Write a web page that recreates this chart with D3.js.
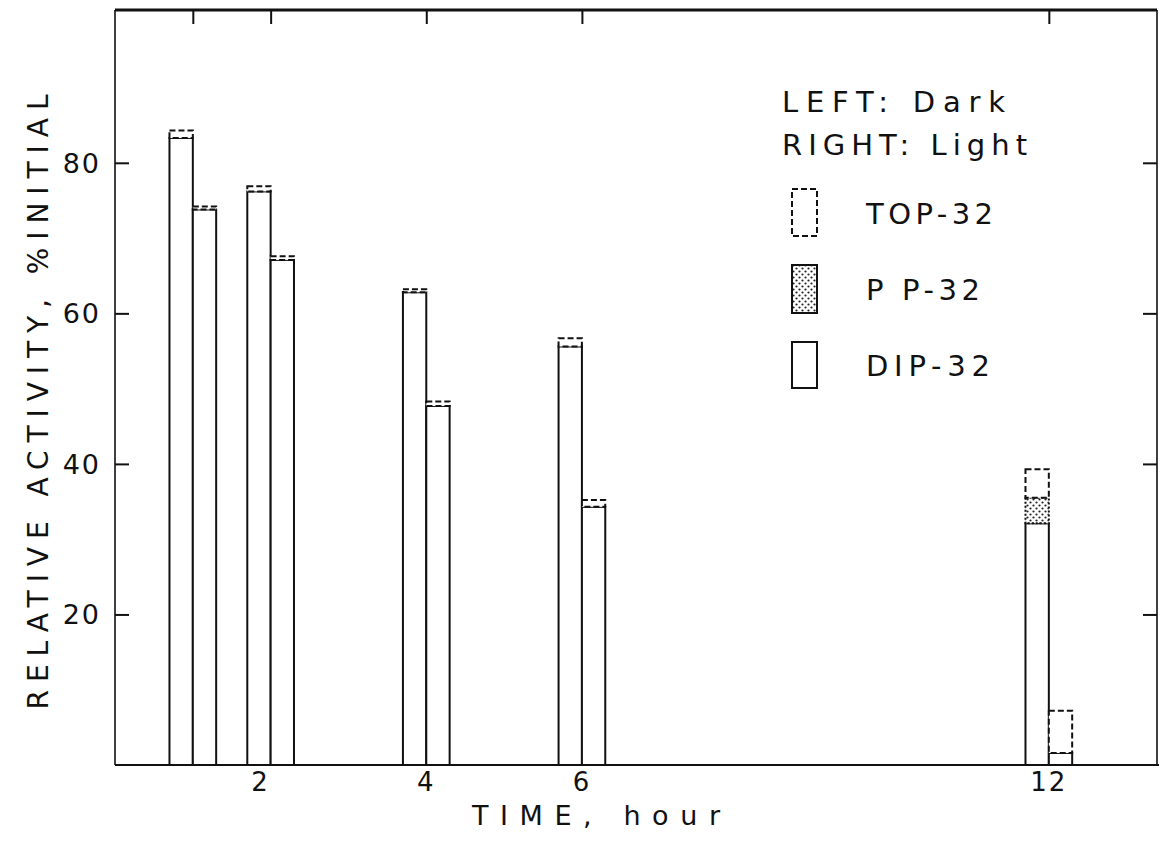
<!DOCTYPE html>
<html>
<head>
<meta charset="utf-8">
<script src="https://cdn.jsdelivr.net/npm/d3@7"></script>
<style>
  html, body { margin: 0; padding: 0; background: #fff; }
  svg { display: block; }
  text { font-family: "DejaVu Sans", sans-serif; fill: #111; }
</style>
</head>
<body>
<svg id="chart" width="1167" height="852"></svg>
<script>
// ---- data ----
const hours      = [1, 2, 4, 6, 12];
const dipDark    = [83.3, 76.2, 62.8, 55.6, 32.1];
const ppDark     = [0, 0, 0, 0, 3.4];
const topDark    = [1.0, 0.7, 0.4, 1.1, 3.8];
const dipLight   = [73.8, 67.1, 47.7, 34.3, 1.6];
const ppLight    = [0, 0, 0, 0, 0];
const topLight   = [0.4, 0.5, 0.6, 0.9, 5.6];
const yTicks     = [20, 40, 60, 80];
const xTopTicks  = [1, 2, 4, 6, 12];
const xLabels    = [2, 4, 6, 12];
const barWidthH  = 0.3;   // bar width in hours

const svg = d3.select("#chart");
const L = 115, R = 1157, T = 10, B = 765;

const x = d3.scaleLinear().domain([0, 13.39]).range([L, R]);
const y = d3.scaleLinear().domain([0, 100.3]).range([B, T]);

// dotted pattern
const defs = svg.append("defs");
const pat = defs.append("pattern").attr("id", "dots")
  .attr("width", 6).attr("height", 6).attr("patternUnits", "userSpaceOnUse");
pat.append("rect").attr("width", 6).attr("height", 6).attr("fill", "#fff");
pat.append("circle").attr("cx", 1.5).attr("cy", 1.5).attr("r", 1.1).attr("fill", "#222");
pat.append("circle").attr("cx", 4.5).attr("cy", 4.5).attr("r", 1.1).attr("fill", "#222");

// build stacked records
const bars = [];
hours.forEach((h, i) => {
  [["dark", dipDark[i], ppDark[i], topDark[i], h - barWidthH, h],
   ["light", dipLight[i], ppLight[i], topLight[i], h, h + barWidthH]].forEach(([side, dip, pp, top, x0, x1]) => {
    bars.push({side, x0, x1, y0: 0, y1: dip, kind: "dip"});
    if (pp > 0) bars.push({side, x0, x1, y0: dip, y1: dip + pp, kind: "pp"});
    if (top > 0) bars.push({side, x0, x1, y0: dip + pp, y1: dip + pp + top, kind: "top"});
  });
});

const g = svg.append("g");
g.selectAll("rect.bar").data(bars).enter().append("rect")
  .attr("class", "bar")
  .attr("x", d => x(d.x0))
  .attr("width", d => x(d.x1) - x(d.x0))
  .attr("y", d => y(d.y1))
  .attr("height", d => y(d.y0) - y(d.y1))
  .attr("fill", d => d.kind === "pp" ? "url(#dots)" : "#fff")
  .attr("stroke", "#111")
  .attr("stroke-width", 2)
  .attr("stroke-dasharray", d => d.kind === "top" ? "6,3" : d.kind === "pp" ? "2,2" : null);

// frame
svg.append("line").attr("x1", L).attr("x2", R).attr("y1", T).attr("y2", T)
  .attr("stroke", "#111").attr("stroke-width", 3);
svg.append("line").attr("x1", L).attr("x2", R + 2).attr("y1", B).attr("y2", B)
  .attr("stroke", "#111").attr("stroke-width", 2.2);
svg.append("line").attr("x1", L).attr("x2", L).attr("y1", T).attr("y2", B)
  .attr("stroke", "#111").attr("stroke-width", 1.6);
svg.append("line").attr("x1", R).attr("x2", R).attr("y1", T).attr("y2", B)
  .attr("stroke", "#111").attr("stroke-width", 1.6);

// axes with d3 axis generators (inward ticks)
const leftAx = svg.append("g").attr("transform", `translate(${L},0)`)
  .call(d3.axisRight(y).tickValues(yTicks).tickSize(14).tickFormat(""));
const rightAx = svg.append("g").attr("transform", `translate(${R},0)`)
  .call(d3.axisLeft(y).tickValues(yTicks).tickSize(14).tickFormat(""));
const topAx = svg.append("g").attr("transform", `translate(0,${T})`)
  .call(d3.axisBottom(x).tickValues(xTopTicks).tickSize(14).tickFormat(""));
[leftAx, rightAx, topAx].forEach(a => {
  a.select(".domain").remove();
  a.selectAll(".tick line").attr("stroke", "#111").attr("stroke-width", 2);
});

// y tick labels
svg.selectAll("text.ylab").data(yTicks).enter().append("text")
  .attr("class", "ylab")
  .attr("x", 101).attr("y", d => y(d) + 10)
  .attr("text-anchor", "end")
  .attr("font-size", 27)
  .attr("letter-spacing", 2)
  .text(d => d);

// x tick labels
svg.selectAll("text.xlab").data(xLabels).enter().append("text")
  .attr("class", "xlab")
  .attr("x", d => x(d) - (d === 2 ? 10 : 0)).attr("y", 791)
  .attr("text-anchor", "middle")
  .attr("font-size", 26)
  .attr("letter-spacing", 2)
  .text(d => d);

// axis titles
svg.append("text")
  .attr("transform", "translate(48,402) rotate(-90)")
  .attr("text-anchor", "middle")
  .attr("font-size", 28)
  .attr("textLength", 615).attr("lengthAdjust", "spacing")
  .text("RELATIVE ACTIVITY, %INITIAL");

svg.append("text")
  .attr("x", 472).attr("y", 825)
  .attr("font-size", 27)
  .attr("textLength", 248).attr("lengthAdjust", "spacing")
  .text("TIME,  hour");

// legend
const lg = svg.append("g");
lg.append("text").attr("x", 782).attr("y", 112).attr("font-size", 29)
  .attr("textLength", 223).attr("lengthAdjust", "spacing").text("LEFT: Dark");
lg.append("text").attr("x", 782).attr("y", 155).attr("font-size", 29)
  .attr("textLength", 245).attr("lengthAdjust", "spacing").text("RIGHT: Light");

const legendItems = [
  {label: "TOP-32", kind: "top", y0: 189, y1: 236, len: 127},
  {label: "P P-32", kind: "pp",  y0: 265, y1: 313, len: 114},
  {label: "DIP-32", kind: "dip", y0: 342, y1: 388, len: 124}
];
legendItems.forEach(it => {
  lg.append("rect").attr("x", 792).attr("y", it.y0)
    .attr("width", 25).attr("height", it.y1 - it.y0)
    .attr("fill", it.kind === "pp" ? "url(#dots)" : "#fff")
    .attr("stroke", "#111").attr("stroke-width", 2)
    .attr("stroke-dasharray", it.kind === "top" ? "6,3" : null);
  lg.append("text").attr("x", 866).attr("y", (it.y0 + it.y1) / 2 + 11)
    .attr("font-size", 29)
    .attr("textLength", it.len).attr("lengthAdjust", "spacing")
    .text(it.label);
});
</script>
</body>
</html>
